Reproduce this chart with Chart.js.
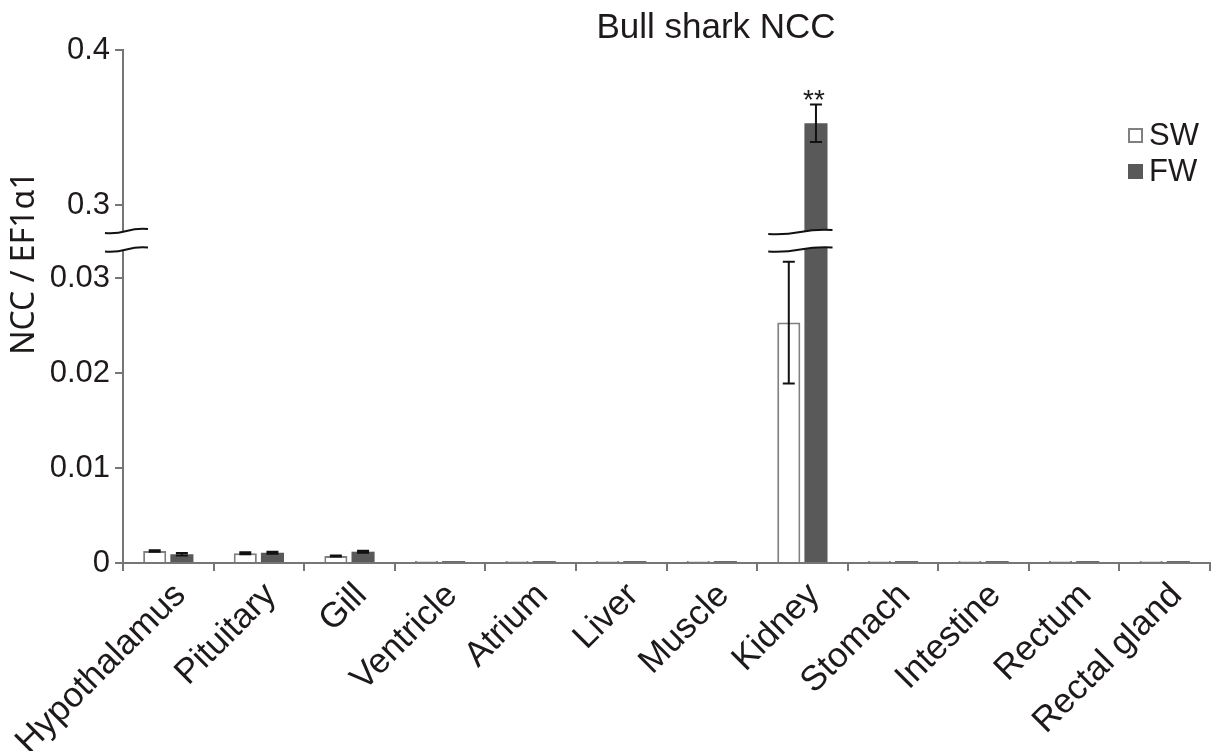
<!DOCTYPE html>
<html>
<head>
<meta charset="utf-8">
<script src="https://cdn.jsdelivr.net/npm/chart.js@4/dist/chart.umd.min.js"></script>
<style>
  html, body { margin: 0; padding: 0; background: #fff; }
  #wrap { width: 1211px; height: 751px; position: relative; }
</style>
</head>
<body>
<div id="wrap"><canvas id="ncc" width="1211" height="751"></canvas></div>
<script>
const tissues = ["Hypothalamus", "Pituitary", "Gill", "Ventricle", "Atrium", "Liver",
  "Muscle", "Kidney", "Stomach", "Intestine", "Rectum", "Rectal gland"];

// seawater (SW) and freshwater (FW) means with error (SEM)
const swMean = [0.00126, 0.00102, 0.00074, 0.0002, 0.0002, 0.0002, 0.0002, 0.0253, 0.0002, 0.0002, 0.0002, 0.0002];
const swErr  = [0.00008, 0.00010, 0.00006, 0, 0, 0, 0, 0.0064, 0, 0, 0, 0];
const fwMean = [0.00092, 0.00108, 0.00119, 0.0002, 0.0002, 0.0002, 0.0002, 0.3527, 0.0002, 0.0002, 0.0002, 0.0002];
const fwErr  = [0.00012, 0.00010, 0.00010, 0, 0, 0, 0, 0.0121, 0, 0, 0, 0];
const signif = ["", "", "", "", "", "", "", "**", "", "", "", ""];

const yTickValues = [0, 0.01, 0.02, 0.03, 0.3, 0.4];
const yTickLabels = ["0", "0.01", "0.02", "0.03", "0.3", "0.4"];

// broken axis: 0..LOW_MAX drawn as is, HIGH_MIN..0.4 squeezed on top of it
const LOW_MAX = 0.033;
const HIGH_MIN = 0.282;
const GAP = 0.00174;
const HIGH_RATIO = 1550 / 9500;

function toAxis(v) {
  if (v <= LOW_MAX) return v;
  if (v < HIGH_MIN) return LOW_MAX + GAP / 2;
  return LOW_MAX + GAP + (v - HIGH_MIN) * HIGH_RATIO;
}

const FONT = "'Liberation Sans', Arial, sans-serif";
const AXIS_GREY = "#767676";
const INK = "#1e1a1a";

function wave(ctx, x0, x1, y) {
  const w = x1 - x0;
  ctx.moveTo(x0, y + 2);
  ctx.bezierCurveTo(x0 + w * 0.5, y + 4, x0 + w * 0.5, y - 4, x1, y - 2);
}

function breakBand(ctx, x0, x1, yTop, yBot) {
  const w = x1 - x0;
  ctx.save();
  ctx.fillStyle = "#fff";
  ctx.beginPath();
  ctx.moveTo(x0, yTop + 2);
  ctx.bezierCurveTo(x0 + w * 0.5, yTop + 4, x0 + w * 0.5, yTop - 4, x1, yTop - 2);
  ctx.lineTo(x1, yBot - 2);
  ctx.bezierCurveTo(x0 + w * 0.5, yBot - 4, x0 + w * 0.5, yBot + 4, x0, yBot + 2);
  ctx.closePath();
  ctx.fill();
  ctx.strokeStyle = "#111";
  ctx.lineWidth = 2;
  ctx.beginPath();
  wave(ctx, x0, x1, yTop);
  wave(ctx, x0, x1, yBot);
  ctx.stroke();
  ctx.restore();
}

const extrasPlugin = {
  id: "extras",
  beforeDraw(chart) {
    // nudge the slanted category labels a little to the right
    const items = chart.scales.x.getLabelItems(chart.chartArea);
    if (!items._nudged) {
      items.forEach((it) => { it.options.translation[0] += 12; });
      items._nudged = true;
    }
  },
  afterDatasetsDraw(chart) {
    const ctx = chart.ctx;
    const y = chart.scales.y;
    const errs = [swErr, fwErr];
    const means = [swMean, fwMean];

    // error bars
    ctx.save();
    ctx.strokeStyle = "#111";
    ctx.lineWidth = 2;
    chart.data.datasets.forEach((ds, di) => {
      chart.getDatasetMeta(di).data.forEach((bar, i) => {
        const e = errs[di][i];
        if (!e) return;
        const yHi = y.getPixelForValue(toAxis(means[di][i] + e));
        const yLo = y.getPixelForValue(toAxis(means[di][i] - e));
        ctx.beginPath();
        ctx.moveTo(bar.x, yHi); ctx.lineTo(bar.x, yLo);
        ctx.moveTo(bar.x - 6, yHi); ctx.lineTo(bar.x + 6, yHi);
        ctx.moveTo(bar.x - 6, yLo); ctx.lineTo(bar.x + 6, yLo);
        ctx.stroke();
      });
    });
    ctx.restore();

    // break through tall bars
    const yTop = y.getPixelForValue(LOW_MAX + GAP) - 1;
    const yBot = y.getPixelForValue(LOW_MAX);
    const sw = chart.getDatasetMeta(0).data;
    const fw = chart.getDatasetMeta(1).data;
    tissues.forEach((t, i) => {
      if (Math.max(swMean[i], fwMean[i]) > HIGH_MIN) {
        breakBand(ctx, sw[i].x - sw[i].width / 2 - 9, fw[i].x + fw[i].width / 2 + 5, yTop, yBot);
      }
    });

    // significance marks
    ctx.save();
    ctx.fillStyle = INK;
    ctx.font = "28px " + FONT;
    ctx.textAlign = "center";
    ctx.textBaseline = "alphabetic";
    signif.forEach((s, i) => {
      if (!s) return;
      const top = Math.max(swMean[i] + swErr[i], fwMean[i] + fwErr[i]);
      ctx.fillText(s, fw[i].x - 2, y.getPixelForValue(toAxis(top)) + 4);
    });
    ctx.restore();
  },
  afterDraw(chart) {
    const ctx = chart.ctx;
    const area = chart.chartArea;
    const y = chart.scales.y;
    const yTop = y.getPixelForValue(LOW_MAX + GAP) - 2;
    const yBot = y.getPixelForValue(LOW_MAX);
    breakBand(ctx, area.left - 18, area.left + 25, yTop, yBot);

    // title
    ctx.save();
    ctx.fillStyle = INK;
    ctx.font = "35px " + FONT;
    ctx.textAlign = "center";
    ctx.textBaseline = "alphabetic";
    ctx.fillText("Bull shark NCC", 716, 38);

    // y axis title
    ctx.save();
    ctx.translate(34, 263);
    ctx.rotate(-Math.PI / 2);
    ctx.font = "32px 'Noto Sans', " + FONT;
    ctx.textBaseline = "alphabetic";
    ctx.fillText("NCC / EF1\u03b11", 0, 0);
    ctx.restore();

    // legend
    ctx.lineWidth = 2;
    ctx.strokeStyle = "#808080";
    ctx.fillStyle = "#fff";
    ctx.fillRect(1129, 129, 13, 13);
    ctx.strokeRect(1129, 129, 13, 13);
    ctx.fillStyle = "#595959";
    ctx.fillRect(1128, 164, 15, 15);
    ctx.fillStyle = INK;
    ctx.font = "31px " + FONT;
    ctx.textAlign = "left";
    ctx.textBaseline = "middle";
    ctx.fillText("SW", 1149, 136);
    ctx.fillText("FW", 1149, 172);
    ctx.restore();
  }
};

new Chart(document.getElementById("ncc"), {
  type: "bar",
  data: {
    labels: tissues,
    datasets: [
      {
        label: "SW",
        data: swMean.map(toAxis),
        backgroundColor: "#ffffff",
        borderColor: "#808080",
        borderWidth: 2,
        borderSkipped: "bottom",
      },
      {
        label: "FW",
        data: fwMean.map(toAxis),
        backgroundColor: "#595959",
        borderWidth: 0,
      },
    ],
  },
  options: {
    responsive: false,
    animation: false,
    devicePixelRatio: 1,
    categoryPercentage: 0.6,
    barPercentage: 0.85,
    layout: { padding: { top: 50, right: 1, left: 0, bottom: 0 } },
    plugins: {
      legend: { display: false },
      tooltip: { enabled: false },
    },
    scales: {
      x: {
        offset: true,
        grid: {
          offset: true,
          drawOnChartArea: false,
          tickLength: 8,
          color: AXIS_GREY,
          lineWidth: 2,
        },
        border: { color: AXIS_GREY, width: 2 },
        ticks: {
          autoSkip: false,
          minRotation: 45,
          maxRotation: 45,
          padding: 4,
          color: INK,
          font: { family: FONT, size: 35 },
        },
        afterFit(scale) {
          scale.height = 188;
          scale.paddingLeft = 0;
          scale.paddingRight = 0;
        },
      },
      y: {
        min: 0,
        max: toAxis(0.4),
        grid: {
          drawOnChartArea: false,
          tickLength: 8,
          color: AXIS_GREY,
          lineWidth: 2,
        },
        border: { color: AXIS_GREY, width: 2 },
        ticks: {
          padding: 5,
          color: INK,
          font: { family: FONT, size: 31 },
          callback: (value, index) => yTickLabels[index],
        },
        afterBuildTicks(axis) {
          axis.ticks = yTickValues.map((v) => ({ value: toAxis(v) }));
        },
        afterFit(scale) {
          scale.width = 123;
          scale.paddingTop = 0;
          scale.paddingBottom = 0;
        },
      },
    },
  },
  plugins: [extrasPlugin],
});
</script>
</body>
</html>
